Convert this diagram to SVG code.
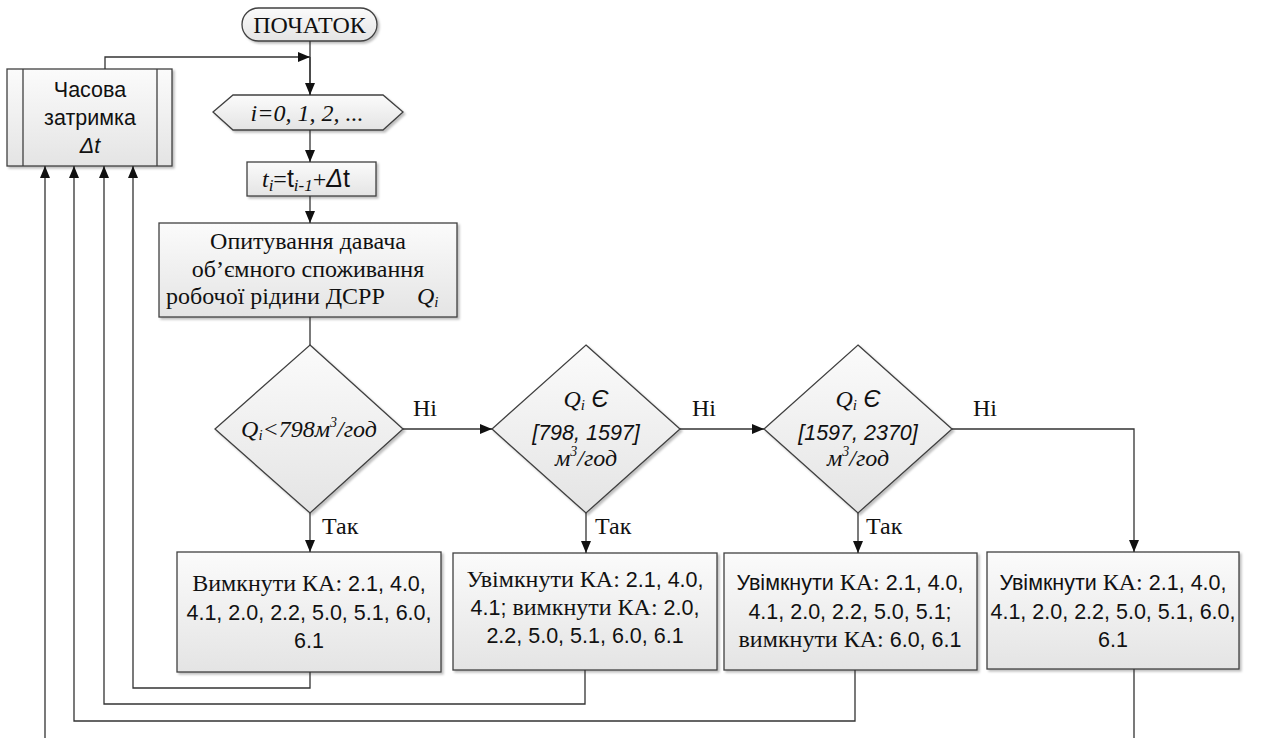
<svg xmlns="http://www.w3.org/2000/svg" width="1266" height="738" viewBox="0 0 1266 738">
<defs>
<linearGradient id="g" x1="0" y1="0" x2="0" y2="1"><stop offset="0" stop-color="#fbfbfb"/><stop offset="1" stop-color="#e4e4e4"/></linearGradient>
<marker id="ah" viewBox="0 0 12 10" refX="12" refY="5" markerWidth="12" markerHeight="10" markerUnits="userSpaceOnUse" orient="auto"><path d="M0,0 L12,5 L0,10 z" fill="#111"/></marker>
<filter id="sh" x="-5%" y="-5%" width="115%" height="120%"><feDropShadow dx="2" dy="2" stdDeviation="1.2" flood-color="#000" flood-opacity="0.25"/></filter>
<style>
.s{fill:url(#g);stroke:#404040;stroke-width:1.3;filter:url(#sh)}
.c{fill:none;stroke:#333;stroke-width:1.3}
.a{marker-end:url(#ah)}
.tr{font-family:"Liberation Serif",serif;font-size:24px;fill:#111}
.ts{font-family:"Liberation Sans",sans-serif;font-size:21.5px;fill:#111}
.i{font-style:italic}
.m{text-anchor:middle}
</style>
</defs>
<g id="start">
<rect class="s" x="242" y="8" width="135" height="33" rx="16.5"/>
<text class="tr m" x="309.5" y="33" font-size="25.5">ПОЧАТОК</text>
</g>
<g id="delay">
<rect class="s" x="7" y="69" width="165" height="97"/>
<line x1="23" y1="69" x2="23" y2="166" stroke="#404040" stroke-width="1.3"/>
<line x1="157" y1="69" x2="157" y2="166" stroke="#404040" stroke-width="1.3"/>
<text class="ts m" x="90" y="97">Часова</text>
<text class="ts m" x="90" y="125">затримка</text>
<text class="ts m i" x="90" y="153">Δt</text>
</g>
<g id="loop">
<polygon class="s" points="213,112 233,95 383,95 403,112 383,130 233,130"/>
<text class="tr i m" x="307" y="121">i=0, 1, 2, ...</text>
</g>
<g id="time">
<rect class="s" x="247" y="162" width="129" height="34"/>
<text class="tr m" x="306" y="187" font-size="26"><tspan class="i">t</tspan><tspan class="i" font-size="17" dy="4">i</tspan><tspan dy="-4">=</tspan><tspan font-family="Liberation Sans" font-size="25">t</tspan><tspan class="i" font-size="17" dy="4">i-1</tspan><tspan dy="-4">+</tspan><tspan font-family="Liberation Sans" font-size="25" class="i">Δ</tspan><tspan font-family="Liberation Sans" font-size="25">t</tspan></text>
</g>
<g id="poll">
<rect class="s" x="159" y="223" width="298" height="94"/>
<text class="tr m" x="308" y="249">Опитування давача</text>
<text class="tr m" x="308" y="277">об’ємного споживання</text>
<text class="tr" x="166" y="304">робочої рідини ДСРР</text>
<text class="tr i" x="417" y="304">Q<tspan font-size="15" dy="3">i</tspan></text>
</g>
<g id="d1">
<polygon class="s" points="310,345 403,429 310,513 215,429"/>
<text class="tr i m" x="309" y="437">Q<tspan font-size="15" dy="3">i</tspan><tspan dy="-3">&lt;798м</tspan><tspan font-size="14" dy="-10">3</tspan><tspan dy="10">/год</tspan></text>
</g>
<g id="d2">
<polygon class="s" points="586,345 680,429 586,513 492,429"/>
<text class="tr i m" x="586" y="407">Q<tspan font-size="15" dy="3">i</tspan><tspan dy="-3" font-family="Liberation Sans"> Є</tspan></text>
<text class="ts i m" x="586" y="440" font-size="23">[798, 1597]</text>
<text class="tr i m" x="586" y="466">м<tspan font-size="14" dy="-10">3</tspan><tspan dy="10">/год</tspan></text>
</g>
<g id="d3">
<polygon class="s" points="858,345 952,429 858,513 764,429"/>
<text class="tr i m" x="858" y="407">Q<tspan font-size="15" dy="3">i</tspan><tspan dy="-3" font-family="Liberation Sans"> Є</tspan></text>
<text class="ts i m" x="858" y="440" font-size="23">[1597, 2370]</text>
<text class="tr i m" x="858" y="466">м<tspan font-size="14" dy="-10">3</tspan><tspan dy="10">/год</tspan></text>
</g>
<g id="b1">
<rect class="s" x="177" y="552" width="264" height="120"/>
<text class="ts m" x="309" y="591"><tspan font-family="Liberation Serif" font-size="24">Вимкнути КА: </tspan>2.1, 4.0,</text>
<text class="ts m" x="309" y="620">4.1, 2.0, 2.2, 5.0, 5.1, 6.0,</text>
<text class="ts m" x="309" y="648">6.1</text>
</g>
<g id="b2">
<rect class="s" x="453" y="553" width="264" height="117"/>
<text class="ts m" x="585" y="587"><tspan font-family="Liberation Serif" font-size="24">Увімкнути КА: </tspan>2.1, 4.0,</text>
<text class="ts m" x="585" y="615">4.1; <tspan font-family="Liberation Serif" font-size="24">вимкнути КА: </tspan>2.0,</text>
<text class="ts m" x="585" y="643">2.2, 5.0, 5.1, 6.0, 6.1</text>
</g>
<g id="b3">
<rect class="s" x="724" y="553" width="253" height="117"/>
<text class="ts m" x="850" y="590">Увімкнути <tspan font-family="Liberation Serif" font-size="24">КА: </tspan>2.1, 4.0,</text>
<text class="ts m" x="850" y="619">4.1, 2.0, 2.2, 5.0, 5.1;</text>
<text class="ts m" x="850" y="647"><tspan font-family="Liberation Serif" font-size="24">вимкнути КА: </tspan>6.0, 6.1</text>
</g>
<g id="b4">
<rect class="s" x="987" y="552" width="252" height="117"/>
<text class="ts m" x="1113" y="590">Увімкнути <tspan font-family="Liberation Serif" font-size="24">КА: </tspan>2.1, 4.0,</text>
<text class="ts m" x="1113" y="619">4.1, 2.0, 2.2, 5.0, 5.1, 6.0,</text>
<text class="ts m" x="1113" y="647">6.1</text>
</g>
<g id="connectors">
<path class="c" d="M310,41 V95"/>
<path class="c a" d="M105,69 V57 H310"/>
<path class="c a" d="M310,57 V95"/>
<path class="c a" d="M310,130 V162"/>
<path class="c a" d="M310,196 V223"/>
<path class="c" d="M310,317 V345"/>
<path class="c a" d="M403,429 H492"/>
<path class="c a" d="M680,429 H764"/>
<path class="c a" d="M952,429 H1134 V552"/>
<path class="c a" d="M310,513 V552"/>
<path class="c a" d="M586,513 V553"/>
<path class="c a" d="M858,513 V553"/>
<path class="c a" d="M310,672 V688 H133 V166"/>
<path class="c a" d="M585,670 V704 H104 V166"/>
<path class="c a" d="M855,670 V721 H74 V166"/>
<path class="c a" d="M1134,669 V740 H45 V166"/>
<text class="tr" x="413" y="416" font-size="23">Ні</text>
<text class="tr" x="692" y="416" font-size="23">Ні</text>
<text class="tr" x="973" y="416" font-size="23">Ні</text>
<text class="tr" x="322" y="534" font-size="23">Так</text>
<text class="tr" x="595" y="534" font-size="23">Так</text>
<text class="tr" x="866" y="534" font-size="23">Так</text>
</g>
</svg>
